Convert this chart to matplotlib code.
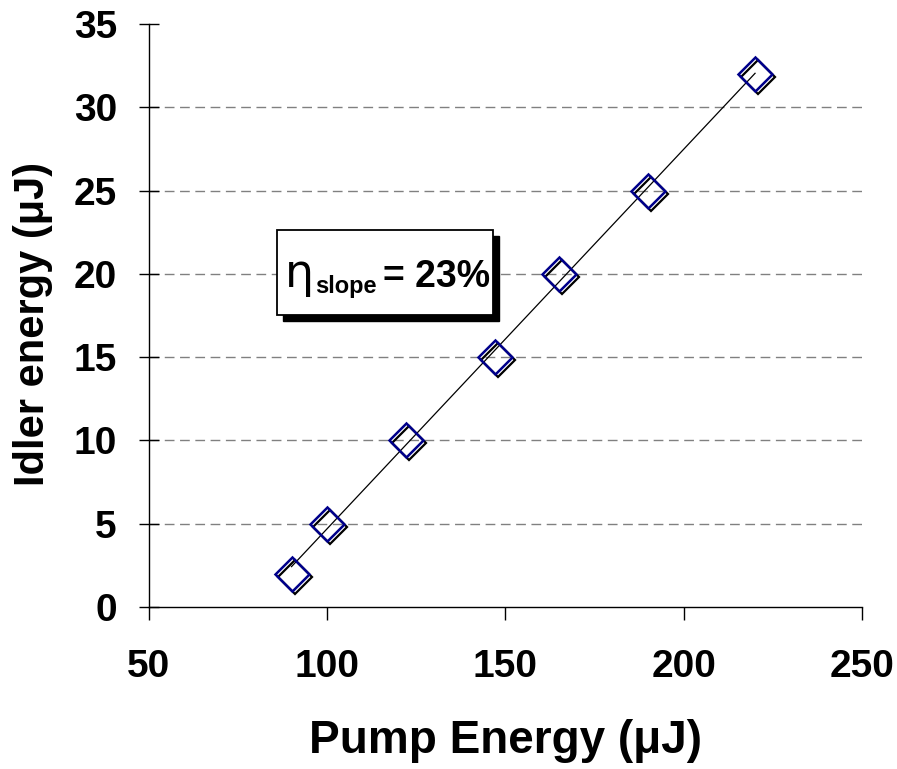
import numpy as np
import matplotlib
matplotlib.use("Agg")
import matplotlib.pyplot as plt
from matplotlib.patches import Rectangle
from matplotlib.transforms import offset_copy

plt.rcParams["font.family"] = ["Liberation Sans", "DejaVu Sans"]
plt.rcParams["font.weight"] = "bold"

# data
pump_energy = [90, 100, 122, 147, 165, 190, 220]
idler_energy = [2, 5, 10, 15, 20, 25, 32]
x_ticks = [50, 100, 150, 200, 250]
y_ticks = [0, 5, 10, 15, 20, 25, 30, 35]
slope_text = "= 23%"

fig = plt.figure(figsize=(8.97, 7.69), dpi=100)
ax = fig.add_axes([0.166, 0.2107, 0.795, 0.7581])

ax.set_xlim(50, 250)
ax.set_ylim(0, 35)
ax.set_xticks(x_ticks)
ax.set_yticks(y_ticks)

# ---- dashed horizontal grid (not at top) ----
for yv in y_ticks[1:-1]:
    ax.axhline(yv, color="#808080", lw=1.0, dashes=(7, 4), zorder=1)

# ---- linear trendline ----
coef = np.polyfit(pump_energy, idler_energy, 1)
xf = np.array([min(pump_energy), max(pump_energy)])
ax.plot(xf, np.polyval(coef, xf), color="black", lw=0.9, zorder=2)

# ---- markers with black shadow ----
shadow = offset_copy(ax.transData, fig=fig, x=3, y=-3, units="dots")
ax.plot(pump_energy, idler_energy, ls="none", marker="D", ms=17,
        mfc="none", mec="black", mew=1.6, transform=shadow, zorder=3)
ax.plot(pump_energy, idler_energy, ls="none", marker="D", ms=17,
        mfc="none", mec="#00008B", mew=1.8, zorder=4)

# ---- text box with shadow ----
ax.add_patch(Rectangle((87.6, 17.17), 60.6, 5.1, facecolor="black",
                       edgecolor="black", zorder=5))
ax.add_patch(Rectangle((85.9, 17.53), 60.6, 5.1, facecolor="white",
                       edgecolor="black", lw=1.3, zorder=6))
ax.text(88.1, 19.2, "\u03b7", fontsize=33, fontweight="normal",
        family="DejaVu Sans", ha="left", va="baseline", zorder=7)
ax.text(96.6, 18.85, "slope", fontsize=17, fontweight="bold",
        ha="left", va="baseline", zorder=7)
ax.text(115.6, 19.2, slope_text, fontsize=27, fontweight="bold",
        ha="left", va="baseline", zorder=7)

# ---- spines / ticks ----
for s in ["top", "right"]:
    ax.spines[s].set_visible(False)
for s in ["left", "bottom"]:
    ax.spines[s].set_color("black")
    ax.spines[s].set_linewidth(1.0)
ax.tick_params(axis="y", direction="inout", length=14, width=1.0,
               labelsize=28, pad=16)
ax.tick_params(axis="x", direction="out", length=9, width=1.0,
               labelsize=28, pad=21)
for lab in ax.get_xticklabels() + ax.get_yticklabels():
    lab.set_fontweight("bold")

ax.set_xlabel("Pump Energy (\u03bcJ)", fontsize=33, fontweight="bold",
              labelpad=25)
ax.set_ylabel("Idler energy (\u03bcJ)", fontsize=30, fontweight="bold")
ax.yaxis.set_label_coords(-0.135, 0.485)

fig.savefig("out.png", dpi=100)
